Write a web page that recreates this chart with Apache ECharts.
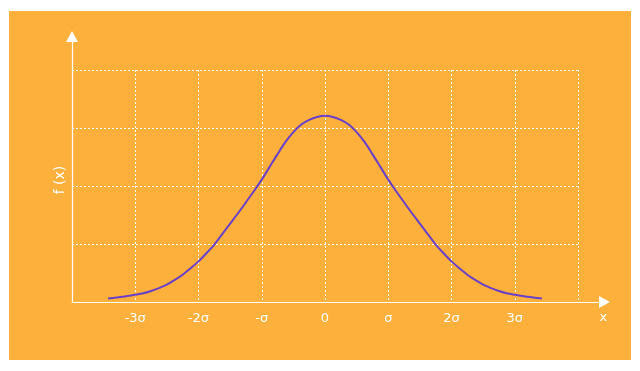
<!DOCTYPE html>
<html>
<head>
<meta charset="utf-8">
<script src="https://cdn.jsdelivr.net/npm/echarts@6/dist/echarts.min.js"></script>
<style>
  html, body { margin: 0; padding: 0; background: #ffffff; }
  #wrap { position: relative; width: 640px; height: 371px; background: #ffffff; }
  #chart { position: absolute; left: 9px; top: 11px; width: 622px; height: 349px; }
</style>
</head>
<body>
<div id="wrap"><div id="chart"></div></div>
<script>
// x positions in units of sigma
var xValues = [-3.43, -3.2, -3, -2.875, -2.75, -2.625, -2.5, -2.375, -2.25, -2.125, -2, -1.875, -1.75,
               -1.625, -1.5, -1.375, -1.25, -1.125, -1, -0.875, -0.75, -0.625, -0.5, -0.375, -0.25, -0.125,
               0, 0.125, 0.25, 0.375, 0.5, 0.625, 0.75, 0.875, 1, 1.125, 1.25, 1.375, 1.5, 1.625, 1.75,
               1.875, 2, 2.125, 2.25, 2.375, 2.5, 2.625, 2.75, 2.875, 3, 3.2, 3.43];
// f(x) values (arbitrary units, 4 grid bands)
var fValues = [0.06, 0.09, 0.125, 0.15, 0.19, 0.24, 0.30, 0.38, 0.47, 0.58, 0.70, 0.84, 0.99,
               1.17, 1.35, 1.53, 1.72, 1.91, 2.11, 2.33, 2.55, 2.76, 2.93, 3.06, 3.14, 3.19,
               3.21, 3.19, 3.14, 3.06, 2.93, 2.76, 2.55, 2.33, 2.11, 1.91, 1.72, 1.53, 1.35, 1.17, 0.99,
               0.84, 0.70, 0.58, 0.47, 0.38, 0.30, 0.24, 0.19, 0.15, 0.125, 0.09, 0.06];
var tickValues = [-3, -2, -1, 0, 1, 2, 3];
var tickLabels = ['-3σ', '-2σ', '-σ', '0', 'σ', '2σ', '3σ'];
var xName = 'x';
var yName = 'f (x)';

var seriesData = xValues.map(function (x, i) { return [x, fValues[i]]; });

var chart = echarts.init(document.getElementById('chart'), null, { renderer: 'canvas' });
var font = 'DejaVu Sans';
var gridLine = { show: true, lineStyle: { color: '#ffffff', width: 1, type: [2, 2] } };

chart.setOption({
  backgroundColor: '#feb03c',
  animation: false,
  grid: [
    { left: 63, right: 53, top: 59, bottom: 58 },
    { left: 63, right: 26.5, top: 25.5, bottom: 58 }
  ],
  xAxis: [
    {
      type: 'value', gridIndex: 0, min: -4, max: 4, interval: 1,
      axisLine: { show: false }, axisTick: { show: false },
      splitLine: gridLine,
      axisLabel: {
        color: '#ffffff', fontFamily: font, fontSize: 13, margin: 10,
        showMinLabel: true, showMaxLabel: true,
        formatter: function (v) {
          var i = tickValues.indexOf(Math.round(v));
          return i >= 0 && Math.abs(v - Math.round(v)) < 1e-6 ? tickLabels[i] : '';
        }
      }
    },
    {
      type: 'value', gridIndex: 1, min: 0, max: 1,
      axisLine: { show: true, lineStyle: { color: '#ffffff', width: 1.2 },
                  symbol: ['none', 'triangle'], symbolSize: [12, 11] },
      axisTick: { show: false }, axisLabel: { show: false }, splitLine: { show: false },
      name: xName, nameLocation: 'end', nameGap: -5,
      nameTextStyle: { color: '#ffffff', fontFamily: font, fontSize: 13,
                       verticalAlign: 'top', padding: [9, 0, 0, 0] }
    }
  ],
  yAxis: [
    {
      type: 'value', gridIndex: 0, min: 0, max: 4, interval: 1,
      axisLine: { show: false }, axisTick: { show: false }, axisLabel: { show: false },
      splitLine: gridLine,
      name: yName, nameLocation: 'middle', nameGap: 5, nameRotate: 90,
      nameTextStyle: { color: '#ffffff', fontFamily: font, fontSize: 14, padding: [0, 0, 0, 12] }
    },
    {
      type: 'value', gridIndex: 1, min: 0, max: 1,
      axisLine: { show: true, lineStyle: { color: '#ffffff', width: 1.2 },
                  symbol: ['none', 'triangle'], symbolSize: [12, 11] },
      axisTick: { show: false }, axisLabel: { show: false }, splitLine: { show: false }
    }
  ],
  series: [{
    type: 'line', xAxisIndex: 0, yAxisIndex: 0,
    data: seriesData, smooth: 0.3, showSymbol: false,
    lineStyle: { color: '#6a40c8', width: 2 }
  }]
});
</script>
</body>
</html>
